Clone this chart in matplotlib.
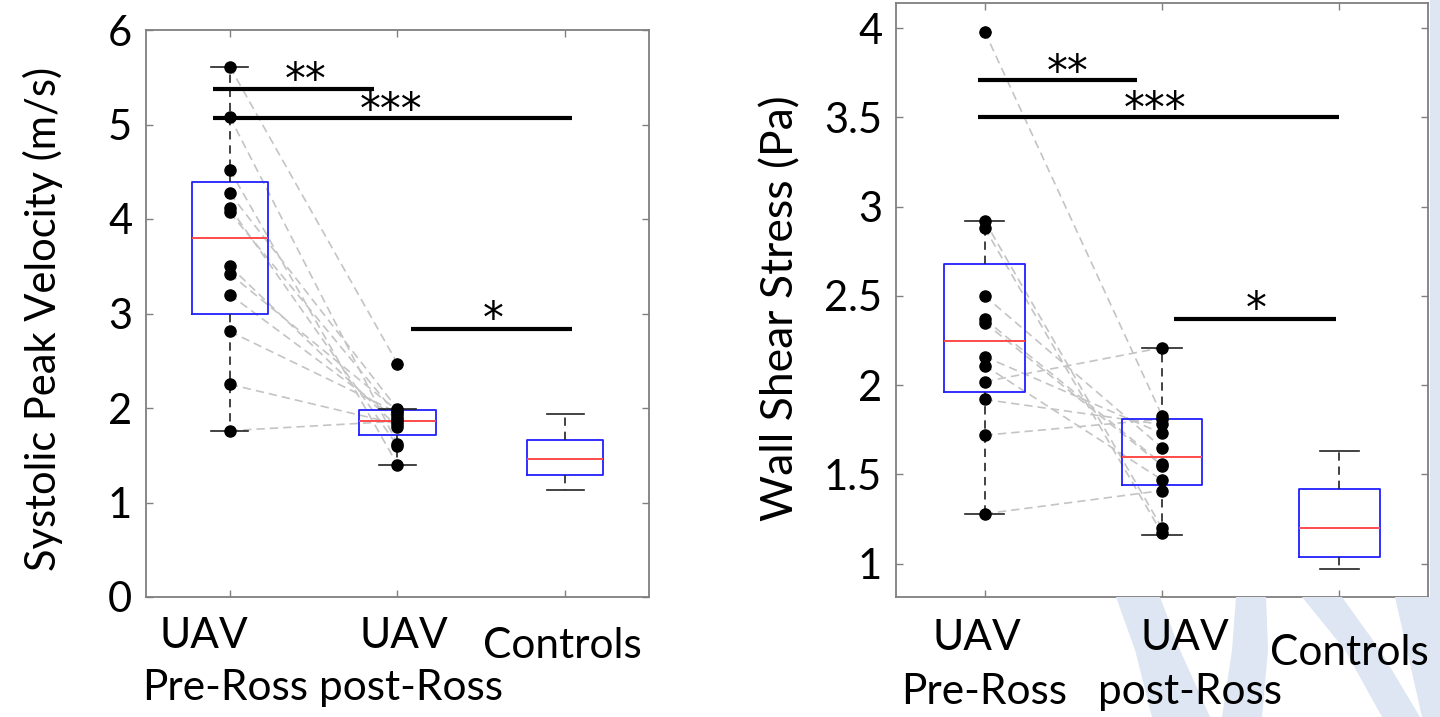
import numpy as np
import matplotlib
matplotlib.use("Agg")
import matplotlib.pyplot as plt
from matplotlib.patches import Polygon
from matplotlib.transforms import offset_copy

plt.rcParams['font.family'] = ['Lato', 'DejaVu Sans']

W, H = 1440, 717
positions = [1, 2, 3]

# systolic peak velocity (m/s), paired pre / post Ross
vel_pre = [5.61, 5.08, 4.52, 4.27, 4.12, 4.07, 3.50, 3.42, 3.20, 2.81, 2.25, 1.76]
vel_post = [2.47, 1.62, 1.40, 1.99, 1.60, 1.92, 1.80, 1.97, 1.88, 1.95, 1.83, 1.86]
vel_med = [3.80, 1.86, 1.46]
vel_q1 = [3.00, 1.71, 1.29]
vel_q3 = [4.39, 1.98, 1.66]
vel_lo = [1.76, 1.40, 1.13]
vel_hi = [5.61, 1.99, 1.94]
vel_out = [[], [2.47], []]
vel_sig = ['**', '***', '*']
vel_sig_y = [5.38, 5.07, 2.84]
vel_sig_x0 = [0.90, 0.90, 2.08]
vel_sig_x1 = [1.86, 3.04, 3.04]
vel_star_x = [1.45, 1.96, 2.57]
vel_star_y = [5.58, 5.26, 3.05]
vel_ticks = [0, 1, 2, 3, 4, 5, 6]

# wall shear stress (Pa)
wss_pre = [3.98, 2.92, 2.88, 2.50, 2.37, 2.35, 2.16, 2.11, 2.02, 1.92, 1.72, 1.28]
wss_post = [1.83, 1.20, 1.17, 1.65, 1.56, 1.55, 1.73, 1.47, 2.21, 1.78, 1.81, 1.41]
wss_med = [2.25, 1.60, 1.20]
wss_q1 = [1.96, 1.44, 1.04]
wss_q3 = [2.68, 1.81, 1.42]
wss_lo = [1.28, 1.16, 0.97]
wss_hi = [2.92, 2.21, 1.63]
wss_out = [[3.98], [], []]
wss_sig = ['**', '***', '*']
wss_sig_y = [3.71, 3.50, 2.37]
wss_sig_x0 = [0.96, 0.96, 2.07]
wss_sig_x1 = [1.86, 3.00, 2.98]
wss_star_x = [1.47, 1.96, 2.53]
wss_star_y = [3.81, 3.60, 2.48]
wss_ticks = [1, 1.5, 2, 2.5, 3, 3.5, 4]
wss_ticklabels = ['1', '1.5', '2', '2.5', '3', '3.5', '4']


def px(x, y):
    return x / W, 1 - y / H


def draw_background(fig):
    # light blue swooshes of the slide template
    bands = [
        [(1116, 597), (1160, 597), (1180, 650), (1210, 717), (1152, 717), (1135, 650)],
        [(1236, 597), (1266, 597), (1268, 650), (1262, 717), (1222, 717), (1232, 650)],
        [(1302, 597), (1342, 597), (1380, 650), (1420, 717), (1382, 717), (1345, 650)],
        [(1395, 597), (1440, 597), (1440, 717), (1422, 717)],
        [(1430, 0), (1440, 0), (1440, 717), (1430, 717)],
    ]
    for b in bands:
        fig.patches.append(Polygon([px(*p) for p in b], closed=True,
                                   transform=fig.transFigure, facecolor='#dde6f2',
                                   edgecolor='none', zorder=0))


def draw_panel(ax, pre, post, med, q1, q3, lo, hi, out, sig, sig_y, sig_x0, sig_x1,
               star_x, star_y, ylim, ticks, ticklabels, ylabel, label_xy, label_size):
    stats = []
    for i in range(3):
        stats.append(dict(med=med[i], q1=q1[i], q3=q3[i], whislo=lo[i], whishi=hi[i],
                          fliers=out[i]))
    ax.bxp(stats, positions=positions, widths=0.455, capwidths=0.22,
           boxprops=dict(color='#2020ff', lw=1.3),
           medianprops=dict(color='#ff4a4a', lw=1.4),
           whiskerprops=dict(color='#222222', lw=1.2, linestyle=(0, (5, 3.5))),
           capprops=dict(color='#222222', lw=1.2),
           flierprops=dict(marker='+', markeredgecolor='red', markersize=8, lw=0))

    for a, b in zip(pre, post):
        ax.plot([1, 2], [a, b], color='#c4c4c4', lw=1.2, ls=(0, (5, 3)), zorder=1)
    ax.plot(np.ones(len(pre)), pre, 'o', color='black', ms=8, zorder=5)
    ax.plot(np.full(len(post), 2), post, 'o', color='black', ms=8, zorder=5)

    # asterisk glyph sits about 23 px above the baseline
    star_tr = offset_copy(ax.transData, fig=ax.figure, y=-23, units='dots')
    for s, y, x0, x1, sx, sy in zip(sig, sig_y, sig_x0, sig_x1, star_x, star_y):
        ax.plot([x0, x1], [y, y], color='black', lw=3, solid_capstyle='butt', zorder=6)
        ax.text(sx, sy, s, ha='center', va='baseline', fontsize=30,
                family='DejaVu Sans', transform=star_tr)

    ax.set_xlim(0.5, 3.5)
    ax.set_ylim(*ylim)
    ax.set_xticks(positions)
    ax.set_xticklabels([])
    ax.set_yticks(ticks)
    ax.set_yticklabels(ticklabels)
    ax.tick_params(direction='in', length=5, width=1, color='#808080',
                   top=True, right=True, labelsize=30, pad=10)
    for sp in ax.spines.values():
        sp.set_color('#7f7f7f')
        sp.set_linewidth(1.3)
    ax.set_ylabel(ylabel, fontsize=label_size)
    ax.yaxis.set_label_coords(*label_xy)


fig = plt.figure(figsize=(W / 100, H / 100), dpi=100)
draw_background(fig)

ax1 = fig.add_axes([146 / W, 1 - 597 / H, 503 / W, 567 / H])
draw_panel(ax1, vel_pre, vel_post, vel_med, vel_q1, vel_q3, vel_lo, vel_hi, vel_out,
           vel_sig, vel_sig_y, vel_sig_x0, vel_sig_x1, vel_star_x, vel_star_y,
           (0, 6), vel_ticks, [str(t) for t in vel_ticks],
           'Systolic Peak Velocity (m/s)', (-0.166, 0.49), 30)

ax2 = fig.add_axes([896 / W, 1 - 597 / H, 532 / W, 594 / H])
draw_panel(ax2, wss_pre, wss_post, wss_med, wss_q1, wss_q3, wss_lo, wss_hi, wss_out,
           wss_sig, wss_sig_y, wss_sig_x0, wss_sig_x1, wss_star_x, wss_star_y,
           (0.814, 4.14), wss_ticks, wss_ticklabels,
           'Wall Shear Stress (Pa)', (-0.177, 0.487), 32)

# group names written under the axes
names = [
    ('UAV', 204, 648), ('Pre-Ross', 225, 700), ('UAV', 404, 648), ('post-Ross', 411, 700),
    ('Controls', 562, 658),
    ('UAV', 977, 650), ('Pre-Ross', 984, 704), ('UAV', 1185, 650), ('post-Ross', 1190, 704),
    ('Controls', 1349, 665),
]
for txt, x, y in names:
    fx, fy = px(x, y)
    fig.text(fx, fy, txt, ha='center', va='baseline', fontsize=30.5)

fig.savefig('out.png', dpi=100, facecolor='white')
